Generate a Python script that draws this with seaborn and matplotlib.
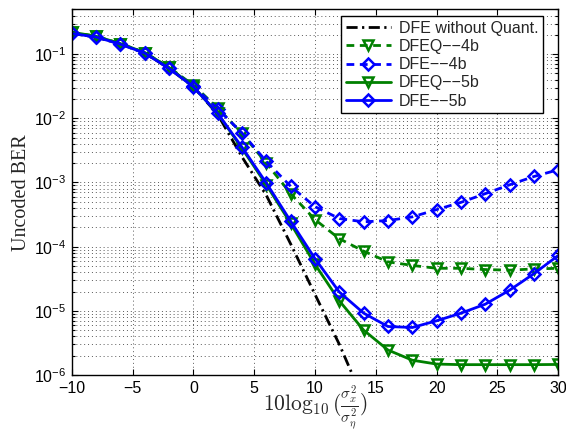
import numpy as np
import pandas as pd
import matplotlib
matplotlib.use("Agg")
import matplotlib.pyplot as plt
import seaborn as sns
from matplotlib.ticker import LogLocator, FixedLocator

# ---------------- data ----------------
snr = [-10, -8, -6, -4, -2, 0, 2, 4, 6, 8, 10, 12, 14, 16, 18, 20, 22, 24, 26, 28, 30]
snr_noq = [-10, -8, -6, -4, -2, 0, 2, 4, 6, 8, 10, 12, 14]

ber_noq = [0.21, 0.185, 0.143, 0.104, 0.060, 0.031, 0.0115, 2.5e-3, 6.3e-4,
           1.1e-4, 1.8e-5, 3.0e-6, 4e-7]
ber_dfeq_4b = [0.22, 0.19, 0.146, 0.106, 0.062, 0.033, 0.0145, 5.8e-3, 2.0e-3,
               6.7e-4, 2.64e-4, 1.33e-4, 8.5e-5, 5.8e-5, 5.1e-5, 4.6e-5, 4.6e-5,
               4.4e-5, 4.3e-5, 4.5e-5, 4.6e-5]
ber_dfe_4b = [0.21, 0.185, 0.143, 0.104, 0.060, 0.032, 0.014, 5.9e-3, 2.13e-3,
              8.7e-4, 4.2e-4, 2.74e-4, 2.44e-4, 2.55e-4, 2.91e-4, 3.78e-4, 4.9e-4,
              6.7e-4, 9.2e-4, 1.24e-3, 1.58e-3]
ber_dfeq_5b = [0.22, 0.19, 0.146, 0.106, 0.062, 0.031, 0.0119, 3.4e-3, 9.2e-4,
               2.3e-4, 5.3e-5, 1.43e-5, 5.0e-6, 2.45e-6, 1.7e-6, 1.48e-6, 1.45e-6,
               1.45e-6, 1.45e-6, 1.45e-6, 1.46e-6]
ber_dfe_5b = [0.21, 0.185, 0.143, 0.104, 0.060, 0.031, 0.0119, 3.55e-3, 9.8e-4,
              2.49e-4, 6.5e-5, 1.96e-5, 9.2e-6, 5.7e-6, 5.5e-6, 7.0e-6, 9.2e-6,
              1.27e-5, 2.1e-5, 3.8e-5, 7.3e-5]

labels = ["DFE without Quant.", "DFEQ\u2212\u22124b", "DFE\u2212\u22124b",
          "DFEQ\u2212\u22125b", "DFE\u2212\u22125b"]
x_ticks = [-10, -5, 0, 5, 10, 15, 20, 25, 30]

# ---------------- style ----------------
sns.set_style("ticks")
plt.rcParams["font.family"] = ["Liberation Sans", "DejaVu Sans"]
plt.rcParams["mathtext.fontset"] = "custom"
plt.rcParams["mathtext.rm"] = "Liberation Sans"
plt.rcParams["mathtext.it"] = "Liberation Sans:italic"
plt.rcParams["mathtext.bf"] = "Liberation Sans:bold"

fig = plt.figure(figsize=(5.66, 4.30), dpi=100)
ax = fig.add_axes([0.1267, 0.1279, 0.8597, 0.8505])

green = "#008000"
blue = "#0000ff"

series = [
    (snr_noq, ber_noq, "black", None, (0, (4.0, 1.6, 0.8, 1.6)), labels[0], 8),
    (snr, ber_dfeq_4b, green, "v", (0, (2.8, 2.0)), labels[1], 7),
    (snr, ber_dfe_4b, blue, "D", (0, (2.8, 2.0)), labels[2], 6),
    (snr, ber_dfeq_5b, green, "v", "-", labels[3], 7),
    (snr, ber_dfe_5b, blue, "D", "-", labels[4], 6),
]

handles = []
for xs, ys, col, mk, ls, lab, ms in series:
    df = pd.DataFrame({"snr": xs, "ber": ys})
    kw = dict(color=col, linestyle=ls, linewidth=2.0)
    if mk is not None:
        kw.update(marker=mk, markersize=ms, markerfacecolor="none",
                  markeredgecolor=col, markeredgewidth=1.8)
    sns.lineplot(data=df, x="snr", y="ber", ax=ax, label=lab, **kw)
    handles.append(ax.lines[-1])

ax.set_yscale("log")
ax.set_xlim(-10, 30)
ax.set_ylim(1e-6, 0.5)
ax.xaxis.set_major_locator(FixedLocator(x_ticks))
ax.yaxis.set_major_locator(LogLocator(base=10, numticks=20))
ax.yaxis.set_minor_locator(LogLocator(base=10, subs=np.arange(2, 10), numticks=20))

grid_ls = (0, (1, 3))
ax.grid(True, which="major", axis="both", linestyle=grid_ls, color="0.35", linewidth=0.7)
ax.grid(True, which="minor", axis="y", linestyle=grid_ls, color="0.35", linewidth=0.7)

ax.tick_params(which="both", direction="in", top=True, right=True,
               labelsize=11.5, width=0.8, colors="black")
ax.tick_params(which="major", length=4, pad=4)
ax.tick_params(which="minor", length=2)
for s in ax.spines.values():
    s.set_linewidth(1.0)
    s.set_color("black")

ax.set_ylabel("Uncoded BER", family=["Liberation Serif"], fontsize=14.5, labelpad=2)
ax.set_xlabel(r"$10\log_{10}(\frac{\sigma_x^2}{\sigma_\eta^2})$", fontsize=15.5,
              math_fontfamily="cm", va="center")
ax.xaxis.set_label_coords(0.5, -(408 - 375) / 365.7)

leg = ax.legend(handles=handles, labels=labels, loc="upper right",
                bbox_to_anchor=((543 - 71.7) / 486.6, (375 - 16) / 365.7),
                borderaxespad=0, fontsize=11.5, frameon=True, fancybox=False,
                framealpha=1, edgecolor="black", handlelength=2.8,
                labelspacing=0.2, borderpad=0.3, handletextpad=0.5)
leg.get_frame().set_linewidth(1.0)

fig.savefig("out.png", dpi=100)
